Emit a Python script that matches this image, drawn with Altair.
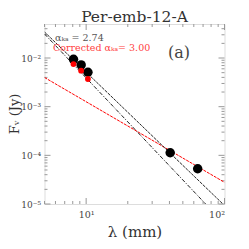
import math
import altair as alt
import pandas as pd

# measured points (wavelength in mm, flux in Jy)
lam = [8.1, 9.2, 10.3, 40.5, 64.0]
flux = [9.4e-3, 7.2e-3, 5.1e-3, 1.13e-4, 5.3e-5]
lam_corr = [8.1, 9.2, 10.3]
flux_corr = [7.5e-3, 5.5e-3, 3.7e-3]

# fitted power-law lines (end points)
fit_lam = [5, 100]
fit_274 = [0.0343, 9.3e-6]
fit_300 = [0.0312, 3.9e-6]
fit_red = [3.98e-3, 2.79e-5]

x_major = [10, 100]
x_major_labels = ["10¹", "10²"]
x_minor = [5, 6, 7, 8, 9, 20, 30, 40, 50, 60, 70, 80, 90]
y_major = [1e-5, 1e-4, 1e-3, 1e-2]
y_major_labels = ["10⁻⁵", "10⁻⁴", "10⁻³", "10⁻²"]
y_minor = [m * 10.0 ** e for e in (-5, -4, -3) for m in range(2, 10)] + [0.02, 0.03, 0.04]

W, H = 180, 180
SERIF = "DejaVu Serif"
FRAME = "#999999"

xs = alt.Scale(type="log", domain=[5, 100], nice=False)
ys = alt.Scale(type="log", domain=[1e-5, 5e-2], nice=False)

def label_expr(vals, labels):
    parts = []
    for v, l in zip(vals, labels):
        parts.append(f"abs(log(datum.value)/LN10 - ({math.log10(v):.3f})) < 0.01 ? '{l}' : ")
    return "".join(parts) + "''"

pts = pd.DataFrame({"lam": lam, "flux": flux})
pts_c = pd.DataFrame({"lam": lam_corr, "flux": flux_corr})
lines = pd.DataFrame({
    "lam": fit_lam * 3,
    "flux": fit_274 + fit_300 + fit_red,
    "fit": ["a274"] * 2 + ["a300"] * 2 + ["red"] * 2,
})

x_axis = alt.Axis(values=x_major, labelExpr=label_expr(x_major, x_major_labels),
                  ticks=False, domain=False, grid=False, labelPadding=5,
                  labelFont=SERIF, labelFontSize=9.5, labelColor="#444",
                  title="λ (mm)", titleFont=SERIF, titleFontSize=15,
                  titleFontWeight="normal", titleColor="#333", titlePadding=6)
y_axis = alt.Axis(values=y_major, labelExpr=label_expr(y_major, y_major_labels),
                  ticks=False, domain=False, grid=False, labelPadding=4,
                  labelFont=SERIF, labelFontSize=9, labelColor="#444", title=None)

base_pts = alt.Chart(pts).mark_circle(size=90, color="black", opacity=1).encode(
    x=alt.X("lam:Q", scale=xs, axis=x_axis),
    y=alt.Y("flux:Q", scale=ys, axis=y_axis),
)
red_pts = alt.Chart(pts_c).mark_circle(size=34, color="#ff0000", opacity=1).encode(
    x=alt.X("lam:Q", scale=xs), y=alt.Y("flux:Q", scale=ys))

def fit_line(name, color, dash):
    return alt.Chart(lines).transform_filter(alt.datum.fit == name).mark_line(
        color=color, strokeWidth=1, strokeDash=dash, clip=True).encode(
        x=alt.X("lam:Q", scale=xs), y=alt.Y("flux:Q", scale=ys))

l_red = fit_line("red", "#ff0000", [3, 1])
l_274 = fit_line("a274", "#222222", [3, 1])
l_300 = fit_line("a300", "#222222", [4, 1.5, 1, 1.5])

def xticks(vals, size):
    df = pd.DataFrame({"v": vals})
    b = alt.Chart(df).mark_rule(color=FRAME, strokeWidth=1)
    return [b.encode(x=alt.X("v:Q", scale=xs), y=alt.value(H), y2=alt.value(H - size)),
            b.encode(x=alt.X("v:Q", scale=xs), y=alt.value(0), y2=alt.value(size))]

def yticks(vals, size):
    df = pd.DataFrame({"v": vals})
    b = alt.Chart(df).mark_rule(color=FRAME, strokeWidth=1)
    return [b.encode(y=alt.Y("v:Q", scale=ys), x=alt.value(0), x2=alt.value(size)),
            b.encode(y=alt.Y("v:Q", scale=ys), x=alt.value(W), x2=alt.value(W - size))]

ticks = xticks(x_major, 6) + xticks(x_minor, 3) + yticks(y_major, 6) + yticks(y_minor, 3)

ann = pd.DataFrame({"t": [0]})
t1 = alt.Chart(ann).mark_text(text="αₖₐ = 2.74", font=SERIF, fontSize=9.5, color="#555",
                              align="left", baseline="middle").encode(x=alt.value(10.5), y=alt.value(14))
t2 = alt.Chart(ann).mark_text(text="Corrected αₖₐ= 3.00", font=SERIF, fontSize=9.5, color="#ff4040",
                              align="left", baseline="middle").encode(x=alt.value(8.5), y=alt.value(24))
t3 = alt.Chart(ann).mark_text(text="(a)", font=SERIF, fontSize=16, color="#444",
                              align="center", baseline="middle").encode(x=alt.value(134.5), y=alt.value(29))
title = alt.Chart(ann).mark_text(text="Per-emb-12-A", font=SERIF, fontSize=15.5, color="#333",
                                 align="center", baseline="alphabetic").encode(x=alt.value(W / 2), y=alt.value(-2.5))
ytitle = alt.Chart(ann).mark_text(text="Fᵥ (Jy)", font=SERIF, fontSize=13, color="#333", angle=270,
                                  align="center", baseline="alphabetic").encode(x=alt.value(-26), y=alt.value(H / 2))

chart = alt.layer(*ticks, l_red, l_274, l_300, base_pts, red_pts, t1, t2, t3, title, ytitle).properties(
    width=W, height=H, autosize=alt.AutoSizeParams(type="none"),
    padding={"left": 36.5, "top": 16, "right": 16, "bottom": 37},
).configure_view(stroke=FRAME, strokeWidth=1).configure(background="white")

chart.save("out.html", embed_options={"renderer": "svg", "actions": False})
